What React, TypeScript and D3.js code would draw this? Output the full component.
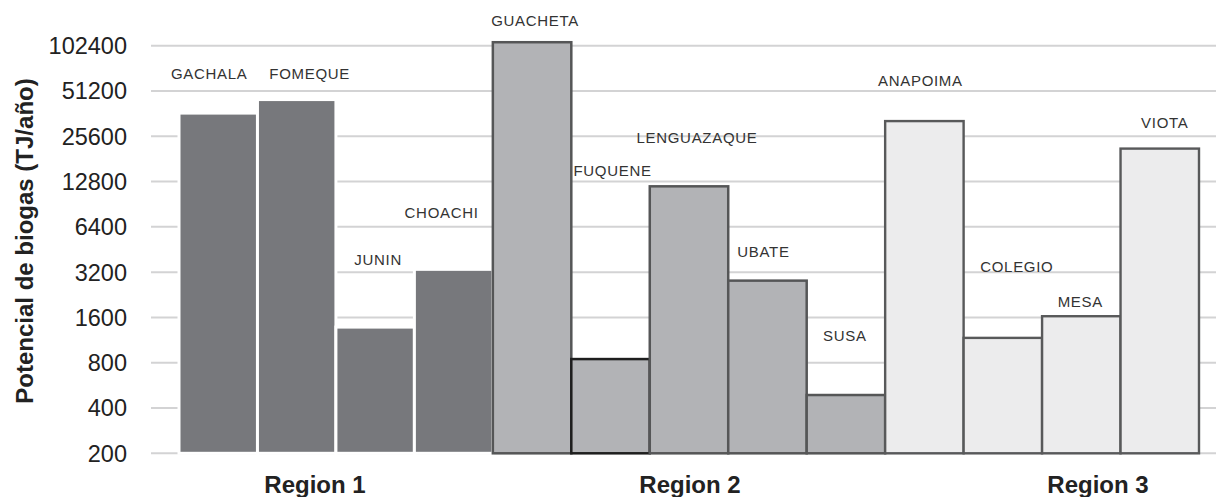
import * as d3 from 'd3'

// municipalities and biogas potential (TJ/año)
const municipios = ['GACHALA', 'FOMEQUE', 'JUNIN', 'CHOACHI', 'GUACHETA', 'FUQUENE', 'LENGUAZAQUE', 'UBATE', 'SUSA', 'ANAPOIMA', 'COLEGIO', 'MESA', 'VIOTA']
const potencial = [36500, 44900, 1380, 3340, 108000, 846, 11900, 2810, 488, 32300, 1170, 1630, 21200]
const regionOf = [1, 1, 1, 1, 2, 2, 2, 2, 2, 3, 3, 3, 3]
const regionNames = ['Region 1', 'Region 2', 'Region 3']
const yTicks = [200, 400, 800, 1600, 3200, 6400, 12800, 25600, 51200, 102400]

// label placement (px), as laid out in the original chart
const labelDx = [-9, 13, 3, -12, 3, 2, 8, -4, -1, -4, 14, -1, 5]
const labelBaseline = [79, 79, 265, 218, 26, 176, 143, 257, 341, 86, 272, 307, 128]
const regionLabelX = [315, 690, 1098]

const WIDTH = 1216
const HEIGHT = 497
const FONT = '"Liberation Sans", Arial, Helvetica, sans-serif'

const regionStyle: any = {
  1: { fill: '#77787c', stroke: '#ffffff', width: 3 },
  2: { fill: '#b2b3b6', stroke: '#555657', width: 2.5 },
  3: { fill: '#ececed', stroke: '#58595a', width: 2.4 },
}

export default function App() {
  const x = d3.scaleBand()
    .domain(municipios)
    .range([179, 1199])
    .padding(0)

  const y = d3.scaleLog()
    .base(2)
    .domain([200, 102400])
    .range([453.3, 45.7])

  return (
    <svg width={WIDTH} height={HEIGHT} style={{ position: 'absolute', left: 0, top: 0, background: '#fff' }}>
      {/* gridlines */}
      <g>
        {yTicks.map(t => (
          <line key={t} x1={151} x2={1216} y1={y(t)} y2={y(t)} stroke="#d3d3d4" strokeWidth={2} />
        ))}
      </g>

      {/* y tick labels */}
      <g fontFamily={FONT} fontSize={23.5} fill="#222" textAnchor="end">
        {yTicks.map(t => (
          <text key={t} x={127} y={y(t)} dy="0.36em">{t}</text>
        ))}
      </g>

      {/* y axis title */}
      <text
        transform={`translate(33,241) rotate(-90)`}
        textAnchor="middle"
        fontFamily={FONT}
        fontSize={24}
        fontWeight="bold"
        fill="#222"
      >Potencial de biogas (TJ/año)</text>

      {/* bars */}
      <g className="bars">
        {municipios.map((m, i) => {
          const st = regionStyle[regionOf[i]]
          const yt = y(potencial[i])
          const stroke = m === 'FUQUENE' ? '#1e1e1e' : st.stroke
          return (
            <rect
              key={m}
              x={x(m)}
              y={yt}
              width={x.bandwidth()}
              height={y(200) - yt}
              fill={st.fill}
              stroke={stroke}
              strokeWidth={st.width}
            />
          )
        })}
      </g>

      {/* bar name labels */}
      <g fontFamily={FONT} fontSize={15} fill="#333" textAnchor="middle" letterSpacing={0.7}>
        {municipios.map((m, i) => (
          <text key={m} x={(x(m) as number) + x.bandwidth() / 2 + labelDx[i]} y={labelBaseline[i]}>{m}</text>
        ))}
      </g>

      {/* region labels */}
      <g fontFamily={FONT} fontSize={24} fontWeight="bold" fill="#222" textAnchor="middle">
        {regionNames.map((r, i) => (
          <text key={r} x={regionLabelX[i]} y={493}>{r}</text>
        ))}
      </g>
    </svg>
  )
}
